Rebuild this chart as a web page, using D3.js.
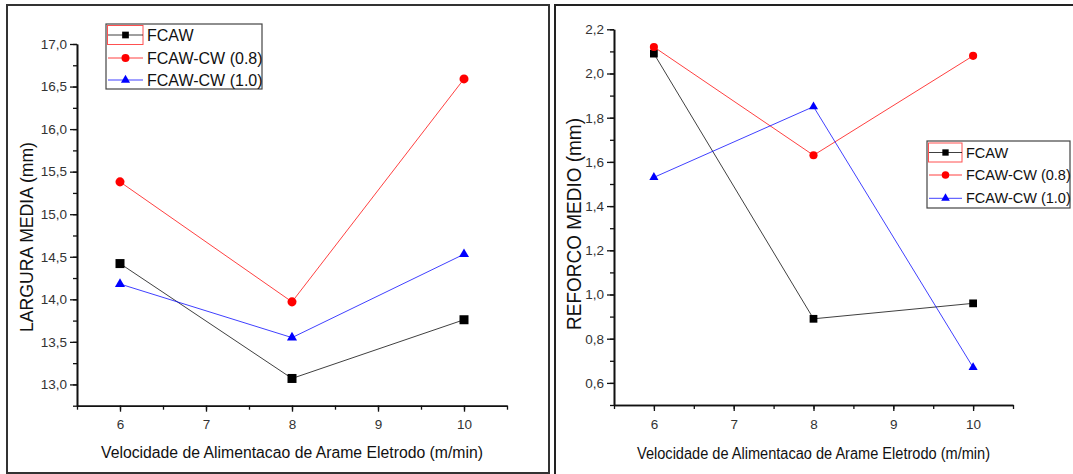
<!DOCTYPE html>
<html>
<head>
<meta charset="utf-8">
<script src="https://d3js.org/d3.v7.min.js"></script>
<style>
  body { margin: 0; background: #fff; }
  svg { font-family: "Liberation Sans", Arial, sans-serif; }
</style>
</head>
<body>
<svg id="chart" width="1073" height="474"></svg>
<script>
// data
var velocidade = [6, 8, 10];
var seriesNames = ["FCAW", "FCAW-CW (0.8)", "FCAW-CW (1.0)"];

var largFcaw = [14.42, 13.07, 13.76];
var largCw08 = [15.38, 13.97, 16.59];
var largCw10 = [14.18, 13.55, 14.53];

var refFcaw = [2.09, 0.89, 0.96];
var refCw08 = [2.12, 1.63, 2.08];
var refCw10 = [1.53, 1.85, 0.67];

var xTicks = [6, 7, 8, 9, 10];
var largTicks = [13.0, 13.5, 14.0, 14.5, 15.0, 15.5, 16.0, 16.5, 17.0];
var refTicks = [0.6, 0.8, 1.0, 1.2, 1.4, 1.6, 1.8, 2.0, 2.2];

var lineColors = ["#000000", "#ff0000", "#0000ff"];
var symbols = [d3.symbolSquare, d3.symbolCircle, d3.symbolTriangle];

var svg = d3.select("#chart");

// frames round the two panels
svg.append("rect")
  .attr("x", 7).attr("y", 5)
  .attr("width", 542).attr("height", 468)
  .attr("fill", "none")
  .attr("stroke", "#333").attr("stroke-width", 2);
svg.append("path")
  .attr("d", "M555,475 V5 H1075")
  .attr("fill", "none")
  .attr("stroke", "#222").attr("stroke-width", 2);

function comma(fmt) {
  return function(d) { return d3.format(fmt)(d).replace(".", ","); };
}

function drawPanel(p) {
  var x = d3.scaleLinear().domain([5.5, 10.5]).range(p.xRange);
  var y = d3.scaleLinear().domain(p.yDomain).range(p.yRange);

  var g = svg.append("g");

  // minor ticks first
  var xMinor = d3.range(5.5, 10.51, 0.5);
  g.append("g")
    .attr("class", "minor")
    .attr("transform", "translate(0," + p.yRange[0] + ")")
    .call(d3.axisBottom(x).tickValues(xMinor).tickSize(4).tickSizeOuter(0).tickFormat(""));
  g.append("g")
    .attr("class", "minor")
    .attr("transform", "translate(" + p.xRange[0] + ",0)")
    .call(d3.axisLeft(y).tickValues(p.yMinor).tickSize(4).tickSizeOuter(0).tickFormat(""));

  g.append("g")
    .attr("class", "major")
    .attr("transform", "translate(0," + p.yRange[0] + ")")
    .call(d3.axisBottom(x).tickValues(xTicks).tickSize(6).tickSizeOuter(0).tickPadding(8).tickFormat(d3.format("d")));
  g.append("g")
    .attr("class", "major")
    .attr("transform", "translate(" + p.xRange[0] + ",0)")
    .call(d3.axisLeft(y).tickValues(p.yTicks).tickSize(7).tickSizeOuter(0).tickPadding(3).tickFormat(comma(".1f")));

  g.selectAll(".domain").attr("stroke", "#111").attr("stroke-width", 1.6);
  g.selectAll(".tick line").attr("stroke", "#111").attr("stroke-width", 1.3);
  g.selectAll(".tick text")
    .attr("fill", "#333")
    .style("font-size", "13.5px")
    .style("font-family", "'Liberation Sans', Arial, sans-serif");

  // axis titles
  g.append("text")
    .attr("x", (p.xRange[0] + p.xRange[1]) / 2)
    .attr("y", p.xTitleY)
    .attr("text-anchor", "middle")
    .attr("dominant-baseline", "central")
    .attr("textLength", p.xTitleLen)
    .attr("lengthAdjust", "spacingAndGlyphs")
    .style("font-size", "16px")
    .attr("fill", "#111")
    .text("Velocidade de Alimentacao de Arame Eletrodo (m/min)");

  g.append("text")
    .attr("transform", "translate(" + p.yTitleX + "," + p.yTitleY + ") rotate(-90)")
    .attr("text-anchor", "middle")
    .attr("dominant-baseline", "central")
    .attr("textLength", p.yTitleLen)
    .attr("lengthAdjust", "spacingAndGlyphs")
    .style("font-size", p.yTitleSize + "px")
    .attr("fill", "#111")
    .text(p.yTitle);

  // series
  var line = d3.line()
    .x(function(d, i) { return x(velocidade[i]); })
    .y(function(d) { return y(d); });

  p.series.forEach(function(vals, k) {
    g.append("path")
      .datum(vals)
      .attr("d", line)
      .attr("fill", "none")
      .attr("stroke", lineColors[k])
      .attr("stroke-opacity", 0.75)
      .attr("stroke-width", 1);
  });
  p.series.forEach(function(vals, k) {
    g.selectAll(".pt" + k)
      .data(vals)
      .enter().append("path")
        .attr("transform", function(d, i) { return "translate(" + x(velocidade[i]) + "," + y(d) + ")"; })
        .attr("d", d3.symbol().type(symbols[k]).size(p.symSizes[k]))
        .attr("fill", lineColors[k]);
  });

  // legend
  var L = p.legend;
  g.append("rect")
    .attr("x", L.x).attr("y", L.y)
    .attr("width", L.w).attr("height", L.h)
    .attr("fill", "#fff")
    .attr("stroke", "#444").attr("stroke-width", 1.2);
  g.append("rect")
    .attr("x", L.x + 1.5).attr("y", L.rows[0] - 9.5)
    .attr("width", L.sample - 1.5).attr("height", 19)
    .attr("fill", "none")
    .attr("stroke", "#ff5050").attr("stroke-width", 1);
  seriesNames.forEach(function(name, k) {
    var ry = L.rows[k];
    g.append("line")
      .attr("x1", L.x + 2).attr("x2", L.x + L.sample)
      .attr("y1", ry).attr("y2", ry)
      .attr("stroke", lineColors[k])
      .attr("stroke-opacity", 0.75);
    g.append("path")
      .attr("transform", "translate(" + (L.x + 2 + (L.sample - 2) / 2) + "," + ry + ")")
      .attr("d", d3.symbol().type(symbols[k]).size(L.symSizes[k]))
      .attr("fill", lineColors[k]);
    g.append("text")
      .attr("x", L.x + L.sample + 4)
      .attr("y", ry)
      .attr("dominant-baseline", "central")
      .style("font-size", L.font + "px")
      .attr("fill", "#111")
      .text(name);
  });
}

drawPanel({
  xRange: [77, 507],
  yDomain: [12.75, 17.0],
  yRange: [405.7, 44],
  yTicks: largTicks,
  yMinor: d3.range(12.75, 17.01, 0.25),
  series: [largFcaw, largCw08, largCw10],
  symSizes: [81, 64, 44],
  xTitleY: 452, xTitleLen: 382,
  yTitle: "LARGURA MEDIA (mm)",
  yTitleX: 26, yTitleY: 237, yTitleLen: 190, yTitleSize: 19,
  legend: {x: 106, y: 24, w: 156, h: 65, rows: [35, 58, 80], sample: 37,
           font: 16, symSizes: [45, 50, 36]}
});

drawPanel({
  xRange: [614, 1013],
  yDomain: [0.5, 2.2],
  yRange: [405, 29.3],
  yTicks: refTicks,
  yMinor: d3.range(0.5, 2.21, 0.1),
  series: [refFcaw, refCw08, refCw10],
  symSizes: [60, 52, 36],
  xTitleY: 453, xTitleLen: 353,
  yTitle: "REFORCO MEDIO (mm)",
  yTitleX: 574, yTitleY: 224, yTitleLen: 212, yTitleSize: 20,
  legend: {x: 927, y: 141, w: 143, h: 67, rows: [152.5, 175, 198.3], sample: 35,
           font: 14.5, symSizes: [40, 45, 32]}
});
</script>
</body>
</html>
